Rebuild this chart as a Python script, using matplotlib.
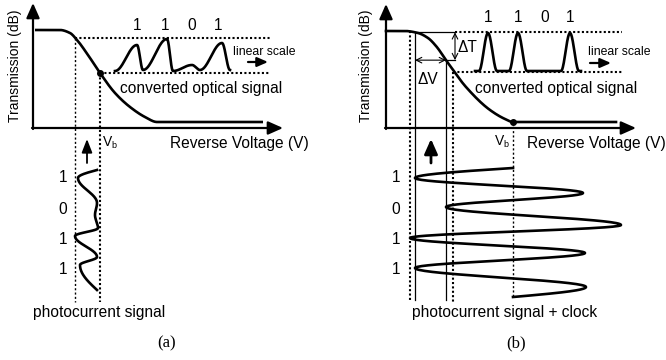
import numpy as np
import matplotlib
matplotlib.use("Agg")
import matplotlib.pyplot as plt

plt.rcParams['font.family'] = ['Liberation Sans', 'DejaVu Sans']

# ---------------- data (pixel space) ----------------
# panel (a) transfer curve samples
tr_a_x = [35, 60, 70, 77, 88, 100, 115, 130, 145, 157, 263]
tr_a_y = [30, 30, 33, 40, 55, 73, 93, 107, 117, 122, 122]
vb_a = 100           # bias voltage position (a)
v_low_a = 75         # low swing edge (a)

# panel (a) optical output (turning points)
opt_a_x = [115, 137, 143, 167, 173, 192, 200, 222, 230]
opt_a_y = [71, 45, 70, 39, 71, 65, 70, 43, 70]
bits_a_x = [137, 165, 192, 218]
bits = ['1', '1', '0', '1']

# panel (a) photocurrent (turning points)
pc_a_x = [97, 78, 97, 95, 98, 75, 97, 80, 97]
pc_a_y = [170, 178, 203, 215, 228, 236, 257, 265, 290]
pc_bits = ['1', '0', '1', '1']
pc_bits_y = [178, 209, 239, 270]

# panel (b) transfer curve samples
tr_b_x = [386, 405, 418, 428, 436, 448, 466, 490, 505, 513, 616]
tr_b_y = [31, 31, 33, 38, 46, 63, 87, 110, 119, 122, 122]
vb_b = 513
v_lines_b = [410, 415, 446, 453]

# panel (b) optical output pulses
opt_b_x = [475, 479, 488, 497, 509, 518, 527, 561, 570, 579, 581]
opt_b_y = [71, 71, 33, 71, 71, 33, 71, 71, 33, 71, 71]
bits_b_x = [488, 518, 545, 570]

# panel (b) photocurrent + clock (turning points)
pc_b_x = [513, 415, 583, 446, 621, 410, 585, 415, 586, 513]
pc_b_y = [168, 178, 193, 207, 225, 238, 253, 268, 287, 297]

# ---------------- helpers ----------------
def pchip(xs, ys, n=400):
    x = np.asarray(xs, float)
    y = np.asarray(ys, float)
    h = np.diff(x)
    d = np.diff(y) / h
    m = np.zeros_like(x)
    for k in range(1, len(x) - 1):
        if d[k - 1] * d[k] > 0:
            w1 = 2 * h[k] + h[k - 1]
            w2 = h[k] + 2 * h[k - 1]
            m[k] = (w1 + w2) / (w1 / d[k - 1] + w2 / d[k])
        else:
            m[k] = 0.0
    m[0] = 0.0
    m[-1] = 0.0
    xx = np.linspace(x[0], x[-1], n)
    idx = np.clip(np.searchsorted(x, xx) - 1, 0, len(x) - 2)
    t = (xx - x[idx]) / h[idx]
    h00 = 2 * t ** 3 - 3 * t ** 2 + 1
    h10 = t ** 3 - 2 * t ** 2 + t
    h01 = -2 * t ** 3 + 3 * t ** 2
    h11 = t ** 3 - t ** 2
    yy = h00 * y[idx] + h10 * h[idx] * m[idx] + h01 * y[idx + 1] + h11 * h[idx] * m[idx + 1]
    return xx, yy

def wave_vertical(xs, ys, n=40, ends=True):
    """x oscillates between turning points, y advances linearly."""
    X, Y = [], []
    m = len(xs)
    for i in range(m - 1):
        s = np.linspace(0, 1, n)
        x0, x1 = xs[i], xs[i + 1]
        if ends and i == 0:
            f = np.sin(np.pi / 2 * s)
        elif ends and i == m - 2:
            f = 1 - np.cos(np.pi / 2 * s)
        else:
            f = (1 - np.cos(np.pi * s)) / 2
        X.append(x0 + (x1 - x0) * f)
        Y.append(ys[i] + (ys[i + 1] - ys[i]) * s)
    return np.concatenate(X), np.concatenate(Y)

def wave_horizontal(xs, ys, n=40):
    Y, X = wave_vertical(ys, xs, n, ends=False)
    return X, Y

# ---------------- figure ----------------
fig = plt.figure(figsize=(6.66, 3.6), dpi=100)
ax = fig.add_axes([0, 0, 1, 1])
ax.set_xlim(0, 666)
ax.set_ylim(360, 0)
ax.axis('off')

K = 'black'
LW_AX = 1.6
LW_C = 1.9
DOT = dict(color=K, lw=1.5, linestyle=(0, (1, 1.1)))
DOT_THIN = dict(color=K, lw=1.0, linestyle=(0, (1.5, 1.6)))
FS = 11.2

def arrow(x0, y0, x1, y1, lw=LW_AX, hl=0.9, hw=0.4, ms=10):
    ax.annotate('', xy=(x1, y1), xytext=(x0, y0),
                arrowprops=dict(arrowstyle=f'-|>,head_length={hl},head_width={hw}',
                                lw=lw, color=K, mutation_scale=ms,
                                shrinkA=0, shrinkB=0))

def darrow(x0, y0, x1, y1):
    ax.annotate('', xy=(x1, y1), xytext=(x0, y0),
                arrowprops=dict(arrowstyle='<->,head_length=0.5,head_width=0.25',
                                lw=0.8, color=K, mutation_scale=8,
                                shrinkA=0, shrinkB=0))

# ===== panel (a) =====
arrow(33, 129, 33, 3)
arrow(32, 128, 283, 128)
ax.text(15, 66, 'Transmission (dB)', rotation=90, ha='center', va='center', fontsize=10)
ax.text(170, 143.5, 'Reverse Voltage (V)', ha='left', va='center', fontsize=FS)
ax.text(103, 142, 'V', ha='left', va='center', fontsize=10)
ax.text(111, 145.5, 'b', ha='left', va='center', fontsize=6.5)

cx, cy = pchip(tr_a_x, tr_a_y)
ax.plot(cx, cy, color=K, lw=LW_C, solid_capstyle='butt')
y_vb = np.interp(vb_a, cx, cy)
y_lo = np.interp(v_low_a, cx, cy)
ax.plot([v_low_a, 270], [y_lo, y_lo], **DOT)
ax.plot([vb_a, 270], [y_vb, y_vb], **DOT)
ax.plot([v_low_a, v_low_a], [y_lo, 302], **DOT_THIN)
ax.plot([vb_a, vb_a], [y_vb, 302], **DOT)
ax.plot([vb_a], [y_vb], 'o', color=K, ms=4)

ox, oy = wave_horizontal(opt_a_x, opt_a_y)
ax.plot(ox, oy, color=K, lw=LW_C)
for x, b in zip(bits_a_x, bits):
    ax.text(x, 25, b, ha='center', va='center', fontsize=FS)
ax.text(233, 52, 'linear scale', ha='left', va='center', fontsize=8.8)
arrow(248, 62, 268, 62, lw=1.6, hl=0.8, hw=0.35, ms=8)
ax.text(120, 88, 'converted optical signal', ha='left', va='center', fontsize=FS)

arrow(87, 163, 87, 139, lw=1.3, hl=0.9, hw=0.35, ms=9)
px, py = wave_vertical(pc_a_x, pc_a_y)
ax.plot(px, py, color=K, lw=LW_C)
for yy, b in zip(pc_bits_y, pc_bits):
    ax.text(63, yy, b, ha='center', va='center', fontsize=FS)
ax.text(33, 312, 'photocurrent signal', ha='left', va='center', fontsize=FS)
ax.text(167, 343, '(a)', ha='center', va='center', fontsize=12, family='Liberation Serif')

# ===== panel (b) =====
arrow(386, 129, 386, 4)
arrow(385, 128, 636, 128)
ax.text(366, 66, 'Transmission (dB)', rotation=90, ha='center', va='center', fontsize=10)
ax.text(527, 143.5, 'Reverse Voltage (V)', ha='left', va='center', fontsize=FS)
ax.text(495, 141, 'V', ha='left', va='center', fontsize=10)
ax.text(503, 144.5, 'b', ha='left', va='center', fontsize=6.5)

bx, by = pchip(tr_b_x, tr_b_y)
ax.plot(bx, by, color=K, lw=LW_C)
yb = [np.interp(v, bx, by) for v in v_lines_b]
y_top = yb[1]
y_mid = yb[2]
# dotted and solid verticals
ax.plot([v_lines_b[0], v_lines_b[0]], [yb[0], 302], **DOT)
ax.plot([v_lines_b[1], v_lines_b[1]], [y_top, 300], color=K, lw=0.9)
ax.plot([v_lines_b[2], v_lines_b[2]], [y_mid, 300], color=K, lw=0.9)
ax.plot([v_lines_b[3], v_lines_b[3]], [72, 302], **DOT)
ax.plot([vb_b, vb_b], [122, 298], **DOT_THIN)
ax.plot([vb_b], [122], 'o', color=K, ms=4)
# horizontal guides
ax.plot([v_lines_b[1], 455], [y_top, y_top], color=K, lw=0.9)
ax.plot([455, 622], [y_top, y_top], **DOT)
ax.plot([v_lines_b[3], 622], [72, 72], **DOT)
ax.plot([v_lines_b[2], 455], [y_mid, y_mid], color=K, lw=0.9)
darrow(455, y_top, 455, y_mid)
darrow(v_lines_b[1], y_mid, v_lines_b[2], y_mid)
ax.text(457, 47, 'ΔT', ha='left', va='center', fontsize=FS)
ax.text(417, 79, 'ΔV', ha='left', va='center', fontsize=FS)

qx, qy = wave_horizontal(opt_b_x, opt_b_y, n=30)
ax.plot(qx, qy, color=K, lw=LW_C)
for x, b in zip(bits_b_x, bits):
    ax.text(x, 17, b, ha='center', va='center', fontsize=FS)
ax.text(588, 52, 'linear scale', ha='left', va='center', fontsize=8.8)
arrow(590, 63, 611, 63, lw=1.6, hl=0.8, hw=0.35, ms=8)
ax.text(475, 88, 'converted optical signal', ha='left', va='center', fontsize=FS)

arrow(431, 163, 431, 139, lw=2.0, hl=0.9, hw=0.4, ms=10)
wx, wy = wave_vertical(pc_b_x, pc_b_y)
ax.plot(wx, wy, color=K, lw=LW_C)
for yy, b in zip(pc_bits_y, pc_bits):
    ax.text(396, yy, b, ha='center', va='center', fontsize=FS)
ax.text(412, 312, 'photocurrent signal + clock', ha='left', va='center', fontsize=FS)
ax.text(516, 343, '(b)', ha='center', va='center', fontsize=12, family='Liberation Serif')

fig.savefig('out.png', dpi=100)
